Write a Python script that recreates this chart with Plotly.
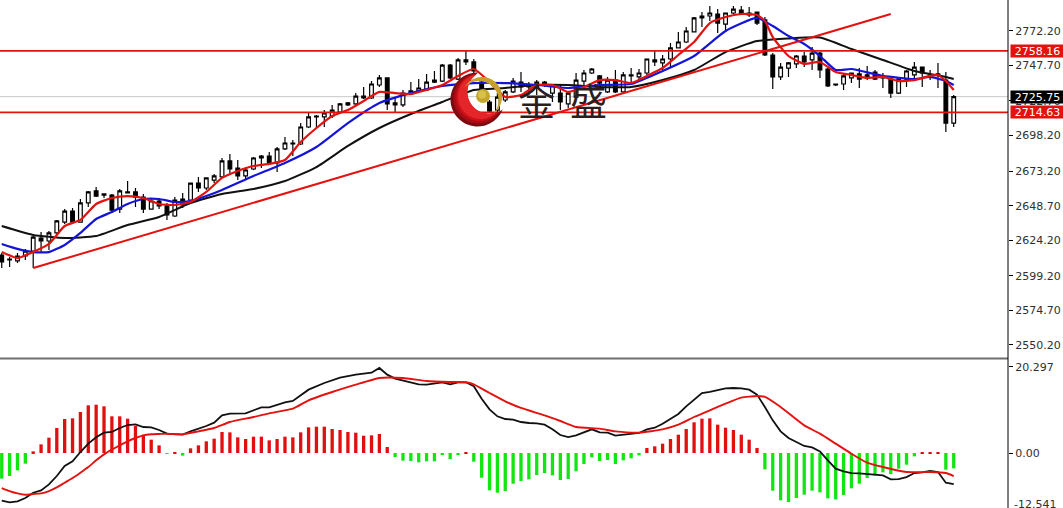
import math
import plotly.graph_objects as go

W, H = 1063, 508

# ---------- price candles ----------
high = [2615.2,2612.4,2615.2,2618.1,2627.2,2630.1,2630.8,2638.6,2646.3,2647.0,2653.4,2659.1,2661.9,2657.0,2657.0,2660.5,2666.1,2661.2,2657.0,2654.1,
2654.1,2650.6,2654.8,2657.7,2664.7,2669.0,2668.3,2671.1,2682.4,2685.2,2681.0,2676.0,2683.1,2684.5,2686.6,2690.2,2697.2,2695.1,2707.1,2714.2,
2712.8,2716.3,2719.9,2721.3,2722.0,2728.3,2732.6,2736.8,2741.1,2739.0,2724.8,2730.5,2736.1,2738.2,2741.8,2743.9,2748.9,2748.9,2753.1,2758.0,
2752.4,2739.0,2723.4,2728.3,2730.5,2739.0,2743.2,2736.1,2737.5,2736.8,2734.7,2734.0,2729.1,2742.5,2744.6,2746.0,2741.1,2739.7,2744.6,2743.2,
2746.0,2745.3,2752.4,2758.0,2755.2,2763.7,2771.5,2775.0,2782.1,2785.6,2789.9,2787.7,2784.9,2789.9,2789.9,2789.2,2785.6,2782.1,2756.6,2749.6,
2750.3,2755.2,2757.3,2760.9,2757.3,2746.0,2734.7,2742.5,2742.5,2746.0,2747.4,2744.6,2742.5,2739.0,2738.2,2744.6,2750.3,2746.7,2744.6,2749.6,
2743.2,2726.9]
low = [2604.6,2605.3,2608.2,2610.3,2604.6,2615.9,2617.4,2628.7,2635.7,2636.4,2637.1,2647.8,2654.8,2654.1,2643.5,2643.5,2657.7,2647.8,2643.5,2646.3,
2646.3,2638.6,2640.7,2647.0,2651.3,2658.4,2659.8,2664.7,2668.3,2671.8,2666.8,2666.8,2673.9,2675.3,2678.2,2672.5,2688.1,2683.8,2691.6,2703.6,
2702.9,2704.3,2710.7,2714.2,2719.2,2719.9,2724.1,2724.1,2732.6,2716.3,2714.2,2718.4,2726.9,2729.1,2729.8,2735.4,2736.1,2738.2,2737.5,2748.1,
2742.5,2728.3,2714.2,2714.9,2722.0,2728.3,2729.1,2726.9,2726.9,2732.6,2722.0,2716.3,2717.7,2724.8,2732.6,2741.8,2730.5,2728.3,2728.3,2729.1,
2735.4,2737.5,2741.1,2747.4,2743.2,2746.0,2760.2,2763.7,2771.5,2775.0,2779.3,2770.8,2771.5,2784.2,2783.5,2782.1,2776.4,2754.5,2731.2,2737.5,
2739.7,2746.0,2746.7,2744.6,2739.0,2732.6,2733.3,2730.5,2735.4,2731.9,2737.5,2737.5,2731.9,2724.8,2727.6,2732.6,2739.0,2732.6,2737.5,2731.9,
2700.8,2704.3]
open_ = [2613.8,2610.3,2609.6,2613.1,2616.6,2625.8,2623.7,2629.4,2637.1,2644.9,2637.1,2650.6,2659.1,2656.2,2656.2,2646.3,2658.4,2658.4,2654.8,2646.3,
2652.0,2648.5,2641.4,2653.4,2652.7,2664.7,2661.2,2666.8,2669.0,2680.3,2675.3,2669.7,2674.6,2682.4,2683.8,2678.9,2688.8,2693.0,2692.3,2704.3,
2711.4,2711.4,2712.1,2714.9,2719.9,2720.6,2726.2,2724.8,2734.0,2739.0,2721.3,2719.9,2727.6,2729.8,2730.5,2737.5,2736.8,2748.1,2738.2,2751.7,
2750.3,2736.1,2722.0,2716.3,2723.4,2729.1,2736.1,2734.0,2732.6,2736.1,2728.3,2728.3,2720.6,2725.5,2736.8,2742.5,2740.4,2729.1,2737.5,2729.1,
2741.1,2739.7,2742.5,2751.7,2749.6,2752.4,2760.2,2764.4,2771.5,2781.4,2782.8,2784.2,2777.1,2784.9,2787.0,2784.9,2785.6,2780.0,2755.2,2739.7,
2746.0,2748.9,2754.5,2751.7,2756.6,2745.3,2734.7,2734.7,2739.0,2741.8,2739.7,2743.2,2739.7,2738.2,2728.3,2738.2,2741.1,2746.7,2741.1,2741.8,
2737.5,2707.1]
close = [2608.9,2611.0,2613.1,2616.6,2626.5,2623.7,2629.4,2637.9,2644.9,2637.1,2650.6,2658.4,2655.5,2657.0,2645.6,2659.1,2657.7,2654.8,2646.3,2652.0,
2648.5,2642.1,2652.7,2649.2,2664.7,2661.2,2668.3,2669.7,2680.3,2674.6,2669.7,2673.9,2682.4,2683.8,2678.9,2688.8,2693.0,2692.3,2704.3,2711.4,
2712.1,2714.2,2716.3,2720.6,2721.3,2726.2,2724.8,2734.7,2739.0,2720.6,2719.9,2728.3,2729.8,2731.9,2736.1,2736.1,2748.1,2739.0,2751.7,2750.3,
2743.9,2730.5,2715.6,2725.5,2729.1,2736.8,2732.6,2732.6,2736.1,2734.0,2734.0,2722.0,2728.3,2737.5,2742.5,2745.3,2735.4,2737.5,2729.1,2741.1,
2740.4,2742.5,2752.4,2750.3,2752.4,2760.2,2764.4,2772.2,2781.4,2782.8,2784.9,2777.8,2784.9,2787.7,2784.2,2783.5,2777.8,2755.2,2739.7,2746.7,
2749.6,2754.5,2750.3,2756.6,2744.6,2733.3,2734.0,2740.4,2742.5,2738.2,2741.1,2738.2,2739.0,2728.3,2738.2,2743.9,2746.7,2742.5,2740.4,2741.1,
2707.1,2725.75]

# ---------- moving averages ----------
black_idx = [0,4,8,12,16,20,24,28,32,36,40,44,48,52,56,60,64,68,72,76,80,84,88,92,96,100,104,108,112,116,120,121]
black_ma = [2634.3,2628.0,2625.8,2627.2,2635.0,2640.7,2650.6,2657.0,2660.5,2666.1,2676.0,2690.9,2703.6,2713.5,2722.0,2730.5,2731.9,2734.0,2734.0,2732.6,
2732.6,2737.5,2744.6,2757.3,2765.1,2766.9,2767.6,2759.5,2751.7,2743.9,2739.7,2738.2]
blue_idx = [0,2,4,6,8,10,12,14,16,18,20,22,24,26,28,32,36,40,44,48,52,56,60,64,68,72,76,80,84,88,92,96,98,100,102,104,106,108,112,116,118,120,121]
blue_ma = [2621.6,2618.1,2615.9,2615.9,2620.9,2629.4,2639.3,2644.2,2649.9,2653.4,2653.4,2651.3,2652.0,2655.5,2659.8,2669.7,2678.9,2690.2,2707.1,2721.3,
2728.3,2733.3,2735.4,2735.4,2734.0,2731.9,2734.0,2734.7,2743.9,2754.5,2772.2,2781.4,2775.7,2768.6,2763.0,2754.5,2744.6,2745.3,2740.4,2738.2,2739.7,2736.8,2734.0]
red_idx = [0,2,4,6,8,10,12,14,16,18,20,22,24,26,28,30,32,34,36,38,40,42,44,46,48,50,52,54,56,58,60,62,64,66,68,70,72,74,76,78,80,82,84,86,88,90,92,94,96,97,98,100,102,104,106,108,110,112,114,116,118,119,120,121]
red_ma = [2615.9,2611.7,2615.9,2621.6,2634.3,2638.6,2649.9,2654.1,2655.5,2654.1,2649.9,2649.2,2651.3,2658.4,2668.3,2673.2,2676.7,2678.2,2681.0,2693.7,
2703.6,2712.1,2716.3,2722.7,2729.1,2728.3,2727.6,2730.5,2734.0,2740.4,2745.3,2736.1,2725.5,2726.9,2734.0,2734.0,2729.1,2732.6,2737.5,2737.5,
2735.4,2740.4,2746.0,2755.2,2764.4,2777.8,2782.1,2784.2,2783.5,2779.3,2767.9,2754.5,2748.9,2750.3,2743.2,2741.1,2739.0,2739.7,2736.8,2737.5,
2740.4,2741.1,2736.8,2730.5]

# ---------- levels and trend line ----------
resistance = 2758.16
support = 2714.63
last_price = 2725.75
trend_idx = [4, 113]
trend_price = [2604.6, 2784.2]

# ---------- MACD ----------
macd_hist = [-5.60,-5.02,-3.78,-2.33,0.36,1.89,3.35,5.46,7.42,7.57,8.95,10.41,10.55,10.19,8.01,8.01,7.50,5.90,4.00,2.91,1.67,-0.15,0.07,-0.58,
1.02,1.67,2.55,3.13,4.59,4.51,3.42,3.06,3.57,3.57,2.77,3.06,3.57,3.42,4.51,5.60,5.75,5.75,5.24,5.02,4.59,4.44,3.78,3.86,4.15,1.31,-0.87,
-1.67,-1.75,-2.04,-1.82,-1.82,-0.36,-1.31,-0.44,0.07,-1.89,-5.39,-8.15,-8.66,-8.30,-6.70,-6.11,-5.75,-4.80,-4.37,-4.88,-5.90,-5.68,-4.00,-2.40,-0.95,-1.75,-1.53,-2.40,-1.60,-1.16,-0.51,
1.09,1.46,2.04,3.06,4.00,5.24,6.70,7.50,7.57,6.19,5.53,5.02,4.00,2.91,1.09,
-3.57,-8.22,-10.33,-10.70,-9.83,-9.10,-8.22,-8.59,-9.90,-10.12,-9.17,-7.71,-6.70,-5.46,-4.88,-4.22,-4.59,-3.42,-2.55,-0.73,0.07,0.22,0.15,-3.64,-3.35]
macd_black_idx = [0,1,2,3,4,5,6,7,8,9,10,11,12,13,14,15,16,17,18,19,20,21,23,24,26,27,28,29,31,33,34,36,37,39,41,43,45,47,48,49,50,51,52,53,54,55,56,57,58,59,60,61,62,63,64,65,66,67,68,69,70,71,72,73,74,75,76,77,78,79,81,82,83,84,85,86,87,88,89,90,91,92,93,94,95,96,97,98,99,100,101,102,103,104,105,106,107,108,109,110,111,112,113,114,115,116,117,118,119,120,121]
macd_black = [-10.41,-10.77,-10.55,-9.83,-8.66,-8.15,-6.84,-5.02,-2.84,-1.82,0.22,2.04,3.42,4.44,4.59,5.46,6.11,6.26,5.68,5.60,5.02,4.22,4.00,4.73,5.90,6.62,8.22,8.59,8.66,9.97,9.97,11.06,11.35,13.83,15.28,16.45,17.10,17.54,18.56,17.10,16.23,15.87,
15.36,14.99,14.92,15.21,15.43,14.99,15.43,15.43,14.56,11.86,9.53,8.01,7.42,7.28,6.77,6.55,6.48,6.19,5.17,3.93,3.49,3.86,4.59,5.17,4.51,4.44,3.78,4.00,4.37,5.17,5.53,6.40,7.50,8.52,10.19,11.64,13.10,13.32,13.76,14.12,14.19,14.12,13.83,12.74,10.04,7.13,4.73,3.28,2.40,1.53,1.24,0.36,-1.60,-3.42,-4.00,-4.37,-4.44,-4.59,-4.73,-4.88,-5.75,-5.68,-5.24,-4.37,-4.22,-3.93,-4.15,-6.48,-6.77]
macd_red_idx = [0,1,2,3,4,5,6,7,8,9,10,11,12,13,14,15,16,17,18,19,20,21,23,25,27,29,32,34,37,39,42,45,48,51,54,57,59,60,62,64,66,69,71,73,76,78,81,84,86,88,90,92,94,96,97,99,102,104,106,108,110,112,115,118,120,121]
macd_red = [-7.64,-8.30,-8.81,-9.10,-8.95,-8.81,-8.30,-7.50,-6.48,-5.46,-4.29,-3.06,-1.60,-0.29,0.73,1.67,2.55,3.28,3.86,4.08,4.15,4.22,4.08,4.73,5.46,6.77,7.86,8.66,9.68,11.50,13.32,14.92,16.38,16.38,15.72,15.50,15.43,14.99,13.10,11.28,9.83,8.22,6.99,5.68,5.31,4.73,4.44,5.17,6.19,7.86,9.32,10.77,12.08,12.45,12.23,10.04,6.04,4.22,2.04,-0.15,-2.11,-3.06,-4.15,-4.15,-4.37,-5.02]

# ---------- axis labels ----------
price_ticks = [2772.20,2747.70,2722.70,2698.20,2673.20,2648.70,2624.20,2599.20,2574.70,2550.20]
price_tick_text = ["2772.20","2747.70","2722.70","2698.20","2673.20","2648.70","2624.20","2599.20","2574.70","2550.20"]
macd_ticks = [18.8, 0.0]
macd_tick_text = ["20.297","0.00"]
macd_bottom_label = "-12.541"
macd_bottom_pos = -11.3

RED = "#e3120f"
n = len(close)
bars = list(range(n))
AXIS_RIGHT = 1008 / W


def px(x):
    return x / W


def py(y):
    return 1 - y / H


fig = go.Figure()
fig.add_trace(go.Candlestick(
    x=bars, open=open_, high=high, low=low, close=close, whiskerwidth=0,
    increasing=dict(line=dict(color="#000000", width=1.2), fillcolor="#ffffff"),
    decreasing=dict(line=dict(color="#000000", width=1.2), fillcolor="#000000"),
    xaxis="x", yaxis="y", showlegend=False))
fig.add_trace(go.Scatter(x=black_idx, y=black_ma, mode="lines",
                         line=dict(color="#111111", width=2, shape="spline", smoothing=0.5)))
fig.add_trace(go.Scatter(x=blue_idx, y=blue_ma, mode="lines",
                         line=dict(color="#1414d8", width=2.2, shape="spline", smoothing=0.5)))
fig.add_trace(go.Scatter(x=red_idx, y=red_ma, mode="lines",
                         line=dict(color=RED, width=2.2, shape="spline", smoothing=0.5)))
fig.add_trace(go.Scatter(x=trend_idx, y=trend_price, mode="lines",
                         line=dict(color=RED, width=2)))

fig.add_trace(go.Bar(x=bars, y=macd_hist, width=0.42, xaxis="x2", yaxis="y2",
                     marker=dict(color=["#e01010" if v > 0 else "#12e612" for v in macd_hist], line_width=0)))
fig.add_trace(go.Scatter(x=macd_black_idx, y=macd_black, mode="lines", xaxis="x2", yaxis="y2",
                         line=dict(color="#111111", width=1.8)))
fig.add_trace(go.Scatter(x=macd_red_idx, y=macd_red, mode="lines", xaxis="x2", yaxis="y2",
                         line=dict(color=RED, width=1.9, shape="spline", smoothing=0.5)))

shapes = []
shapes.append(dict(type="line", xref="x domain", yref="y", x0=0, x1=1, y0=last_price, y1=last_price,
                   line=dict(color="#c8c8c8", width=1), layer="below"))
for level in (resistance, support):
    shapes.append(dict(type="line", xref="x domain", yref="y", x0=0, x1=1, y0=level, y1=level,
                       line=dict(color=RED, width=1.8)))
# separator between the two panes
shapes.append(dict(type="line", xref="paper", yref="paper", x0=0, x1=AXIS_RIGHT, y0=py(358.5), y1=py(358.5),
                   line=dict(color="#6e6e6e", width=2)))
shapes.append(dict(type="line", xref="paper", yref="paper", x0=AXIS_RIGHT, x1=AXIS_RIGHT, y0=0, y1=1,
                   line=dict(color="#000000", width=1)))


# ---------- logo ----------
def crescent(cx, cy, r, ix, iy, ir):
    d = math.hypot(ix - cx, iy - cy)
    a = (r * r - ir * ir + d * d) / (2 * d)
    half = math.acos(a / r)
    half2 = math.acos((d - a) / ir)
    base = math.atan2(iy - cy, ix - cx)
    pts = []
    steps = 48
    for k in range(steps + 1):
        t = base + half + (2 * math.pi - 2 * half) * k / steps
        pts.append((cx + r * math.cos(t), cy + r * math.sin(t)))
    for k in range(steps + 1):
        t = base + math.pi + half2 - 2 * half2 * k / steps
        pts.append((ix + ir * math.cos(t), iy + ir * math.sin(t)))
    return "M" + "L".join(f"{px(x):.5f},{py(y):.5f}" for x, y in pts) + "Z"


logo_layers = [
    (477.5, 99.5, 27.0, 489.0, 92.0, 22.0, "#7c0a10"),
    (478.5, 98.5, 25.0, 489.0, 92.0, 22.0, "#a80c14"),
    (479.5, 97.5, 23.5, 489.0, 92.0, 22.0, "#cc1018"),
    (480.5, 96.5, 22.5, 489.0, 92.0, 21.5, "#e4252a"),
]
for cx, cy, r, ix, iy, ir, col in logo_layers:
    shapes.append(dict(type="path", xref="paper", yref="paper", path=crescent(cx, cy, r, ix, iy, ir),
                       fillcolor=col, line=dict(width=0)))
shapes.append(dict(type="path", xref="paper", yref="paper", path=crescent(482, 97, 20, 479, 100.5, 19.5),
                   fillcolor="#c6a12c", line=dict(width=0)))
shapes.append(dict(type="circle", xref="paper", yref="paper", x0=px(476), x1=px(490), y0=py(89), y1=py(103),
                   fillcolor="#c4a62c", line=dict(width=0)))
shapes.append(dict(type="circle", xref="paper", yref="paper", x0=px(478), x1=px(486), y0=py(90.5), y1=py(98.5),
                   fillcolor="#d8c04a", line=dict(width=0)))

annotations = []
for ch, cx in (("金", 536), ("盛", 588)):
    annotations.append(dict(xref="paper", yref="paper", x=px(cx), y=py(100), text=ch, showarrow=False,
                            xanchor="center", yanchor="middle",
                            font=dict(family="Noto Sans CJK SC", size=37, color="#2b1d1d")))
for value, bg in ((last_price, "#000000"), (resistance, "#e3120f"), (support, "#e3120f")):
    annotations.append(dict(xref="paper", yref="y", x=1010 / W, y=value, text=f"{value:.2f}", showarrow=False,
                            xanchor="left", yanchor="middle", width=53, height=12, bgcolor=bg, borderpad=0,
                            font=dict(family="DejaVu Sans", size=11, color="#ffffff")))

axis_font = dict(family="DejaVu Sans", size=11, color="#303030")
annotations.append(dict(xref="paper", yref="y2", x=1013 / W, y=macd_bottom_pos, text=macd_bottom_label,
                        showarrow=False, xanchor="left", yanchor="middle", font=axis_font, borderpad=0))
x_range = [-0.22, 127.9]
hidden_x = dict(domain=[0, AXIS_RIGHT], range=x_range, showticklabels=False, showgrid=False,
                zeroline=False, ticks="", fixedrange=True, rangeslider=dict(visible=False))
fig.update_layout(
    width=W, height=H, autosize=False,
    margin=dict(l=0, r=0, t=0, b=0, pad=0),
    paper_bgcolor="#ffffff", plot_bgcolor="#ffffff",
    showlegend=False, boxgap=0.33, bargap=0.6, hovermode=False,
    xaxis=dict(hidden_x, anchor="y"),
    xaxis2=dict(hidden_x, anchor="y2"),
    yaxis=dict(domain=[py(357), 1], range=[2541.7, 2794.1], side="right", anchor="x",
               tickmode="array", tickvals=price_ticks, ticktext=price_tick_text,
               showgrid=False, zeroline=False, ticks="outside", ticklen=4, tickcolor="#000000",
               tickfont=axis_font, showline=False),
    yaxis2=dict(domain=[0, py(360)], range=[-12.0, 20.3], side="right", anchor="x2",
                tickmode="array", tickvals=macd_ticks, ticktext=macd_tick_text,
                showgrid=False, zeroline=False, ticks="outside", ticklen=4, tickcolor="#000000",
                tickfont=axis_font, showline=False),
    shapes=shapes, annotations=annotations,
)
fig.update_traces(showlegend=False)
fig.write_html("out.html", config=dict(displayModeBar=False),
               post_script="document.documentElement.style.overflow='hidden';document.body.style.margin='0';")
